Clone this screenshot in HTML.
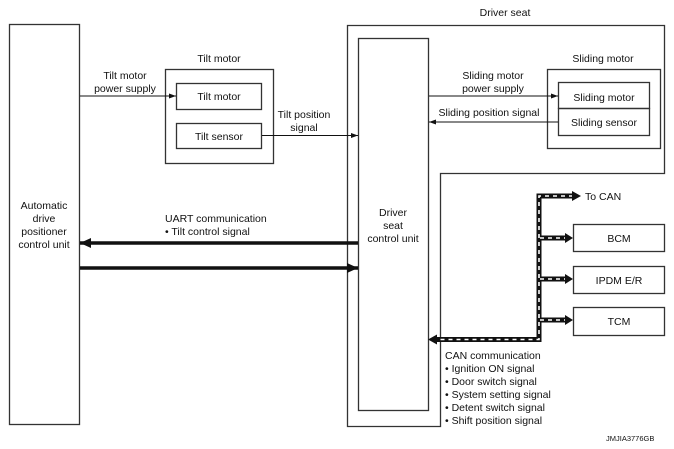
<!DOCTYPE html>
<html><head><meta charset="utf-8"><style>
html,body{margin:0;padding:0;background:#fff;}
svg{display:block;font-family:"Liberation Sans",Arial,sans-serif;}
text{font-size:10.5px;fill:#111;}
</style></head><body>
<svg width="674" height="449" viewBox="0 0 674 449">
<defs>
<marker id="a" markerWidth="8" markerHeight="6" refX="7" refY="3" orient="auto" markerUnits="userSpaceOnUse"><path d="M0,0.5 L7,3 L0,5.5 z" fill="#111"/></marker>
<marker id="b" markerWidth="12" markerHeight="10" refX="11" refY="5" orient="auto" markerUnits="userSpaceOnUse"><path d="M0,0 L11,5 L0,10 z" fill="#111"/></marker>
</defs>
<g fill="none" stroke="#333" stroke-width="1.3">
<rect x="9.5" y="24.5" width="70" height="400"/>
<rect x="165.5" y="69.5" width="108" height="94"/>
<rect x="176.5" y="83.5" width="85" height="26"/>
<rect x="176.5" y="123.5" width="85" height="25"/>
<path d="M347.5 25.5 H664.5 V173.5 H440.5 V426.5 H347.5 Z"/>
<rect x="358.5" y="38.5" width="70" height="372"/>
<rect x="547.5" y="69.5" width="113" height="79"/>
<rect x="558.5" y="82.5" width="91" height="26"/>
<rect x="558.5" y="108.5" width="91" height="27"/>
<rect x="573.5" y="224.5" width="91" height="27"/>
<rect x="573.5" y="266.5" width="91" height="27"/>
<rect x="573.5" y="307.5" width="91" height="28"/>
</g>
<g stroke="#111" stroke-width="1" fill="none">
<line x1="80" y1="96" x2="176" y2="96" marker-end="url(#a)"/>
<line x1="262" y1="135.5" x2="358" y2="135.5" marker-end="url(#a)"/>
<line x1="429" y1="96" x2="558" y2="96" marker-end="url(#a)"/>
<line x1="558" y1="122" x2="429" y2="122" marker-end="url(#a)"/>
</g>
<g stroke="#111" stroke-width="3.5" fill="none">
<line x1="358" y1="243" x2="80" y2="243" marker-end="url(#b)"/>
<line x1="80" y1="268" x2="358" y2="268" marker-end="url(#b)"/>
</g>
<g fill="none">
<path d="M573 196 H539 V339.5 H437" stroke="#111" stroke-width="5"/>
<path d="M540 238 H565 M540 279 H565 M540 320 H565" stroke="#111" stroke-width="5"/>
<path d="M573 196 H539 V339.5 H437" stroke="#fff" stroke-width="1.6" stroke-dasharray="4 4"/>
<path d="M540 238 H565 M540 279 H565 M540 320 H565" stroke="#fff" stroke-width="1.6" stroke-dasharray="4 4"/>
</g>
<g fill="#111">
<path d="M572 191 L581 196 L572 201 z"/>
<path d="M565 233 L573 238 L565 243 z"/>
<path d="M565 274 L573 279 L565 284 z"/>
<path d="M565 315 L573 320 L565 325 z"/>
<path d="M437 334.5 L428 339.5 L437 344.5 z"/>
</g>
<text x="505" y="16" text-anchor="middle">Driver seat</text>
<text x="219" y="62" text-anchor="middle">Tilt motor</text>
<text x="125" y="79" text-anchor="middle">Tilt motor</text>
<text x="125" y="92" text-anchor="middle">power supply</text>
<text x="219" y="100" text-anchor="middle">Tilt motor</text>
<text x="219" y="140" text-anchor="middle">Tilt sensor</text>
<text x="304" y="118" text-anchor="middle">Tilt position</text>
<text x="304" y="131" text-anchor="middle">signal</text>
<text x="603" y="62" text-anchor="middle">Sliding motor</text>
<text x="493" y="79" text-anchor="middle">Sliding motor</text>
<text x="493" y="92" text-anchor="middle">power supply</text>
<text x="489" y="116" text-anchor="middle">Sliding position signal</text>
<text x="604" y="101" text-anchor="middle">Sliding motor</text>
<text x="604" y="126" text-anchor="middle">Sliding sensor</text>
<text x="393" y="216" text-anchor="middle">Driver</text>
<text x="393" y="229" text-anchor="middle">seat</text>
<text x="393" y="242" text-anchor="middle">control unit</text>
<text x="44" y="209" text-anchor="middle">Automatic</text>
<text x="44" y="222" text-anchor="middle">drive</text>
<text x="44" y="235" text-anchor="middle">positioner</text>
<text x="44" y="248" text-anchor="middle">control unit</text>
<text x="165" y="222">UART communication</text>
<text x="165" y="235">• Tilt control signal</text>
<text x="585" y="200">To CAN</text>
<text x="619" y="242" text-anchor="middle">BCM</text>
<text x="619" y="284" text-anchor="middle">IPDM E/R</text>
<text x="619" y="325" text-anchor="middle">TCM</text>
<text x="445" y="359">CAN communication</text>
<text x="445" y="372">• Ignition ON signal</text>
<text x="445" y="385">• Door switch signal</text>
<text x="445" y="398">• System setting signal</text>
<text x="445" y="411">• Detent switch signal</text>
<text x="445" y="424">• Shift position signal</text>
<text x="606" y="441" style="font-size:7.5px">JMJIA3776GB</text>
</svg>
</body></html>
